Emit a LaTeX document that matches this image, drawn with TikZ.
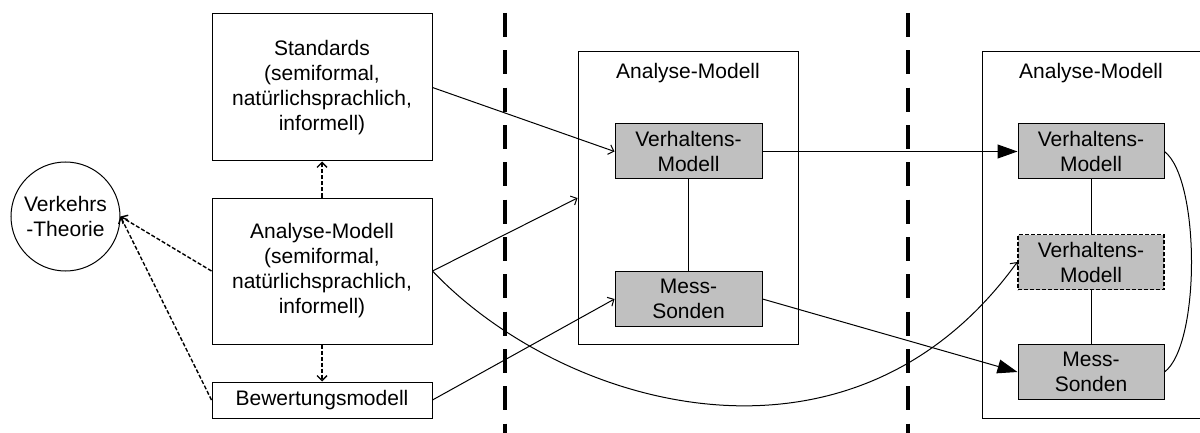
\documentclass[tikz,border=0pt]{standalone}
\usepackage{fontspec}
\setmainfont{Liberation Sans}
\usetikzlibrary{arrows.meta}
\definecolor{boxgray}{HTML}{C0C0C0}
\tikzset{
  every node/.style={font=\fontsize{10.5}{12.5}\selectfont, align=center, inner sep=0pt},
  plainbox/.style={draw, line width=0.5pt},
  graybox/.style={draw, line width=0.5pt, fill=boxgray, minimum width=73.5pt, minimum height=27.5pt},
  conn/.style={line width=0.5pt},
  openarrow/.style={conn, -{Straight Barb[length=2.5pt,width=5pt]}},
  filledarrow/.style={conn, -{Triangle[length=10pt,width=7pt]}},
  deparrow/.style={line width=0.7pt, dash pattern=on 2pt off 1pt, -{Straight Barb[length=2.5pt,width=5pt]}},
  separator/.style={line width=1.6pt, dash pattern=on 12pt off 6.67pt},
}
\begin{document}
\begin{tikzpicture}[x=0.5pt,y=-0.5pt]
\useasboundingbox (0,0) rectangle (1200,433);
% left column
\node[plainbox, minimum width=110pt, minimum height=73.5pt] (std) at (322,87.5) {Standards\\(semiformal,\\natürlichsprachlich,\\informell)};
\node[plainbox, minimum width=110pt, minimum height=73pt] (anl) at (322,271) {Analyse-Modell\\(semiformal,\\natürlichsprachlich,\\informell)};
\node[plainbox, minimum width=110pt, minimum height=18pt] (bew) at (322,400) {Bewertungsmodell};
\node[plainbox, circle, minimum size=54.5pt] (vt) at (65.5,216.5) {Verkehrs\\-Theorie};
% middle
\node[plainbox, minimum width=110pt, minimum height=146pt] (mbox) at (688,198) {};
\node (mtitle) at (688,73) {Analyse-Modell};
\node[graybox] (mv) at (688.5,151.5) {Verhaltens-\\Modell};
\node[graybox] (mm) at (688.5,299) {Mess-\\Sonden};
% right
\node[plainbox, minimum width=109.5pt, minimum height=183pt] (rbox) at (1091.5,235) {};
\node (rtitle) at (1091,73) {Analyse-Modell};
\node[graybox, minimum width=73pt] (rv) at (1091,151.5) {Verhaltens-\\Modell};
\node[graybox, minimum width=73pt, line width=0.7pt, dash pattern=on 2pt off 1pt] (rd) at (1091,262) {Verhaltens-\\Modell};
\node[graybox, minimum width=73pt] (rm) at (1091,372) {Mess-\\Sonden};
% separators
\coordinate (s1t) at (505,13);
\coordinate (s1b) at (505,433);
\coordinate (s2t) at (908,13);
\coordinate (s2b) at (908,433);
\draw[separator] (s1t) -- (s1b);
\draw[separator] (s2t) -- (s2b);
% dependencies
\draw[deparrow] (anl) -- (std);
\draw[deparrow] (anl) -- (bew);
\draw[deparrow] (anl.west) -- (vt.east);
\draw[deparrow] (bew.west) -- (vt.east);
% connectors
\draw[openarrow] (std.east) -- (mv.west);
\draw[openarrow] (anl.east) -- (mbox.west);
\draw[openarrow] (bew.east) -- (mm.west);
\draw[openarrow] (anl.east) .. controls +(128,135) and +(-168,232) .. (rd.west);
\draw[conn] (mv) -- (mm);
\draw[filledarrow] (mv.east) -- (rv.west);
\draw[filledarrow] (mm.east) -- (rm.west);
\draw[conn] (rv) -- (rd);
\draw[conn] (rd) -- (rm);
\draw[conn] (rv.east) .. controls +(36,28) and +(36,-27) .. (rm.east);
\end{tikzpicture}
\end{document}
